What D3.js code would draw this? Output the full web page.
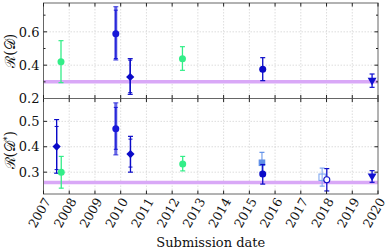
<!DOCTYPE html>
<html>
<head>
<meta charset="utf-8">
<script src="https://cdn.jsdelivr.net/npm/d3@7.9.0/dist/d3.min.js"></script>
<style>
  body { margin: 0; background: #fff; }
  svg text { font-family: "DejaVu Serif", serif; fill: #111; }
</style>
</head>
<body>
<svg width="390" height="251"></svg>
<script>
const years = d3.range(2007, 2021);

// [year, value, low, high, innerLow, innerHigh, style]
const pointsD = [
  [2007.68, 0.420, 0.295, 0.547, null, null, 'green'],
  [2009.81, 0.589, 0.431, 0.751, 0.440, 0.730, 'blueBand'],
  [2010.37, 0.329, 0.225, 0.439, 0.235, 0.430, 'diamond'],
  [2012.40, 0.439, 0.369, 0.511, null, null, 'green'],
  [2015.52, 0.375, 0.307, 0.445, null, null, 'dark'],
  [2019.77, 0.309, 0.267, 0.347, null, null, 'triangle']
];
const pointsDstar = [
  [2007.51, 0.401, 0.296, 0.507, 0.310, 0.480, 'diamond'],
  [2007.69, 0.300, 0.237, 0.362, null, null, 'green'],
  [2009.81, 0.471, 0.368, 0.573, 0.390, 0.555, 'blueBand'],
  [2010.38, 0.371, 0.300, 0.441, 0.320, 0.430, 'diamond'],
  [2012.41, 0.332, 0.305, 0.362, null, null, 'green'],
  [2015.49, 0.337, 0.300, 0.378, null, null, 'square'],
  [2015.52, 0.293, 0.253, 0.330, null, null, 'dark'],
  [2017.83, 0.280, 0.245, 0.316, null, null, 'openSquare'],
  [2018.01, 0.270, 0.226, 0.314, null, null, 'openCircle'],
  [2019.77, 0.285, 0.260, 0.306, null, null, 'triangle']
];
const baselineD = 0.300;
const baselineDstar = 0.259;

const colors = {
  green: '#33ee88', blueBand: '#1818d8', diamond: '#0a0ac8', dark: '#0a0ac8',
  triangle: '#1010d0', square: '#6090e8', openSquare: '#80a8f0', openCircle: '#1010c8'
};

const svg = d3.select('svg');
const x = d3.scaleLinear().domain([2007, 2020]).range([43.5, 378]);

const panels = [
  { pts: pointsD, base: baselineD, y: d3.scaleLinear().domain([0.2, 0.773]).range([98.5, 3]),
    ticks: d3.range(0.2, 0.75, 0.1), labels: [0.2, 0.4, 0.6], label: 'ℛ(𝒟)', sup: '' },
  { pts: pointsDstar, base: baselineDstar, y: d3.scaleLinear().domain([0.214, 0.59]).range([194, 98.5]),
    ticks: [0.3, 0.4, 0.5], labels: [0.3, 0.4, 0.5], label: 'ℛ(𝒟', sup: '*' }
];

panels.forEach((p, pi) => {
  const y = p.y;
  const [y0, y1] = y.range();
  const g = svg.append('g');

  // grid
  g.selectAll('.vg').data(years.slice(1, -1)).join('line')
    .attr('x1', d => x(d)).attr('x2', d => x(d)).attr('y1', y1).attr('y2', y0)
    .attr('stroke', '#d4d4d4').attr('stroke-width', 0.8).attr('stroke-dasharray', '1.5,1.5');
  g.selectAll('.hg').data(p.labels.filter(v => y(v) > y1 + 2 && y(v) < y0 - 2)).join('line')
    .attr('x1', x.range()[0]).attr('x2', x.range()[1]).attr('y1', d => y(d)).attr('y2', d => y(d))
    .attr('stroke', '#d4d4d4').attr('stroke-width', 0.8).attr('stroke-dasharray', '1.5,1.5');

  // baseline band
  g.append('line').attr('x1', x.range()[0]).attr('x2', x.range()[1])
    .attr('y1', y(p.base)).attr('y2', y(p.base))
    .attr('stroke', '#d9a8f7').attr('stroke-width', 3.5);

  // error bars and markers
  p.pts.forEach(([yr, v, lo, hi, ilo, ihi, st]) => {
    const cx = x(yr), c = colors[st];
    const band = st === 'blueBand';
    const light = st === 'openSquare' || st === 'square';
    g.append('line').attr('x1', cx).attr('x2', cx).attr('y1', y(lo)).attr('y2', y(hi))
      .attr('stroke', c).attr('stroke-width', band ? 3 : 1.3).attr('opacity', band ? 0.65 : (light ? 0.8 : 1));
    [lo, hi].forEach(e => g.append('line').attr('x1', cx - 2.5).attr('x2', cx + 2.5)
      .attr('y1', y(e)).attr('y2', y(e)).attr('stroke', c).attr('stroke-width', 1.2).attr('opacity', band ? 0.7 : 1));
    if (ilo !== null) {
      g.append('line').attr('x1', cx).attr('x2', cx).attr('y1', y(ilo)).attr('y2', y(ihi))
        .attr('stroke', c).attr('stroke-width', 1.2);
      [ilo, ihi].forEach(e => g.append('line').attr('x1', cx - 2).attr('x2', cx + 2)
        .attr('y1', y(e)).attr('y2', y(e)).attr('stroke', c).attr('stroke-width', 1));
    }
    const cy = y(v);
    if (st === 'diamond') {
      g.append('path').attr('d', d3.symbol(d3.symbolSquare, 34)())
        .attr('transform', `translate(${cx},${cy}) rotate(45)`).attr('fill', c);
    } else if (st === 'triangle') {
      g.append('path').attr('d', d3.symbol(d3.symbolTriangle, 34)())
        .attr('transform', `translate(${cx},${cy}) rotate(180)`).attr('fill', c);
    } else if (st === 'square') {
      g.append('rect').attr('x', cx - 3.3).attr('y', cy - 3.3).attr('width', 6.6).attr('height', 6.6).attr('fill', c);
    } else if (st === 'openSquare') {
      g.append('rect').attr('x', cx - 3.2).attr('y', cy - 3.2).attr('width', 6.4).attr('height', 6.4)
        .attr('fill', 'none').attr('stroke', c).attr('stroke-width', 1.1);
    } else if (st === 'openCircle') {
      g.append('circle').attr('cx', cx).attr('cy', cy).attr('r', 3)
        .attr('fill', '#fff').attr('stroke', c).attr('stroke-width', 1.1);
    } else {
      g.append('circle').attr('cx', cx).attr('cy', cy).attr('r', 3.5).attr('fill', c);
    }
  });

  // frame
  g.append('rect').attr('x', x.range()[0]).attr('y', y1).attr('width', x.range()[1] - x.range()[0])
    .attr('height', y0 - y1).attr('fill', 'none').attr('stroke', '#666').attr('stroke-width', 1);

  // inward ticks
  years.forEach(yr => {
    g.append('line').attr('x1', x(yr)).attr('x2', x(yr)).attr('y1', y0).attr('y2', y0 - 3.5).attr('stroke', '#222');
    g.append('line').attr('x1', x(yr)).attr('x2', x(yr)).attr('y1', y1).attr('y2', y1 + 3.5).attr('stroke', '#222');
  });
  p.ticks.forEach(v => {
    const major = p.labels.some(l => Math.abs(l - v) < 1e-6);
    const len = major ? 3.5 : 2;
    g.append('line').attr('x1', x.range()[0]).attr('x2', x.range()[0] + len).attr('y1', y(v)).attr('y2', y(v)).attr('stroke', '#222');
    g.append('line').attr('x1', x.range()[1]).attr('x2', x.range()[1] - len).attr('y1', y(v)).attr('y2', y(v)).attr('stroke', '#222');
  });
  g.selectAll('.yl').data(p.labels).join('text')
    .attr('x', x.range()[0] - 4).attr('y', d => y(d)).attr('dy', '0.36em')
    .attr('text-anchor', 'end').attr('font-size', 13).text(d => d.toFixed(1));

  // y label
  const ly = (y0 + y1) / 2 + (p.sup ? 4 : 0);
  const t = g.append('text').attr('transform', `translate(15,${ly}) rotate(-90)`)
    .attr('text-anchor', 'middle').attr('font-size', 14);
  t.append('tspan').text(p.label);
  if (p.sup) {
    t.append('tspan').attr('font-size', 9).attr('dy', -5).text(p.sup);
    t.append('tspan').attr('dy', 5).text(')');
  }
});

// x tick labels
svg.selectAll('.xl').data(years).join('text')
  .attr('transform', d => `translate(${x(d) + 4},${199}) rotate(-60)`)
  .attr('text-anchor', 'end').attr('dy', '0.35em').attr('font-size', 12.5).text(d => d);

svg.append('text').attr('x', (x.range()[0] + x.range()[1]) / 2).attr('y', 247)
  .attr('text-anchor', 'middle').attr('font-size', 13).text('Submission date');
</script>
</body>
</html>
